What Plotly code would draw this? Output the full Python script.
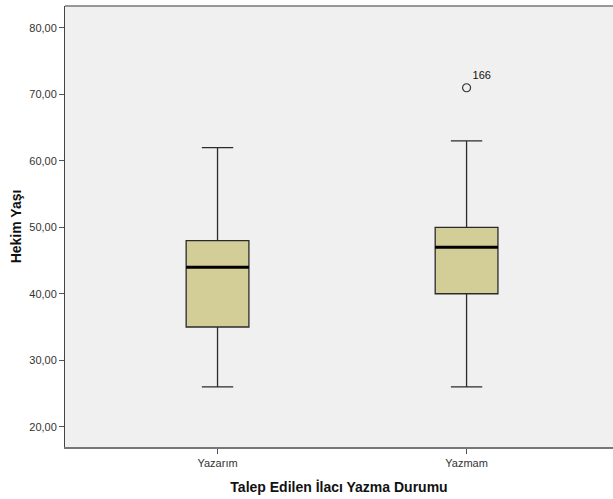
import plotly.graph_objects as go

# Hekim yaşı dağılımı, talep edilen ilacı yazma durumuna göre
categories = ["Yazarım", "Yazmam"]
lower_whisker = [26, 26]
q1_values = [35, 40]
median_values = [44, 47]
q3_values = [48, 50]
upper_whisker = [62, 63]

outlier_group = [1]
outlier_values = [71]
outlier_labels = ["166"]

y_tick_values = [20, 30, 40, 50, 60, 70, 80]
y_tick_labels = ["20,00", "30,00", "40,00", "50,00", "60,00", "70,00", "80,00"]

box_width = 0.252
positions = list(range(len(categories)))

fig = go.Figure()

fig.add_trace(go.Box(
    x=positions,
    q1=q1_values,
    median=median_values,
    q3=q3_values,
    lowerfence=lower_whisker,
    upperfence=upper_whisker,
    width=box_width,
    whiskerwidth=0.5,
    fillcolor="#d3ce97",
    line=dict(color="#2b2b2b", width=1.3),
    boxpoints=False,
    hoverinfo="skip",
    showlegend=False,
))

# Thicker median bars drawn on top of each box
for pos, med in zip(positions, median_values):
    fig.add_trace(go.Scatter(
        x=[pos - box_width / 2, pos + box_width / 2],
        y=[med, med],
        mode="lines",
        line=dict(color="#000000", width=3),
        hoverinfo="skip",
        showlegend=False,
    ))

# Outlier with its case number
fig.add_trace(go.Scatter(
    x=outlier_group,
    y=outlier_values,
    mode="markers+text",
    marker=dict(symbol="circle-open", size=8, color="#333333", line=dict(width=1.2)),
    text=outlier_labels,
    textposition="top right",
    textfont=dict(family="Liberation Sans, Arial, sans-serif", size=11, color="#111111"),
    hoverinfo="skip",
    showlegend=False,
))

# Top frame line of the plotting area
fig.add_shape(
    type="line", xref="paper", yref="paper",
    x0=0, x1=1, y0=1, y1=1,
    line=dict(color="#777777", width=1.5),
)

fig.update_layout(
    width=613,
    height=499,
    margin=dict(l=65, r=0, t=6, b=52),
    paper_bgcolor="#ffffff",
    plot_bgcolor="#f0f0f0",
    font=dict(family="Liberation Sans, Arial, sans-serif", color="#333333"),
    xaxis=dict(
        range=[-0.6125, 1.588],
        tickvals=positions,
        ticktext=categories,
        ticks="outside",
        ticklen=5,
        tickcolor="#555555",
        showline=True,
        linecolor="#777777",
        linewidth=1.5,
        showgrid=False,
        zeroline=False,
        tickfont=dict(size=11, color="#333333"),
        title=dict(
            text="<b>Talep Edilen İlacı Yazma Durumu</b>",
            font=dict(size=14, color="#111111"),
            standoff=14,
        ),
    ),
    yaxis=dict(
        range=[16.94, 83.3],
        tickvals=y_tick_values,
        ticktext=y_tick_labels,
        ticks="outside",
        ticklen=5,
        tickcolor="#555555",
        showline=True,
        linecolor="#444444",
        linewidth=1,
        showgrid=False,
        zeroline=False,
        tickfont=dict(size=11, color="#333333"),
        title=dict(
            text="<b>Hekim Yaşı</b>",
            font=dict(size=14, color="#111111"),
            standoff=4,
        ),
    ),
)

fig.write_html("out.html")
